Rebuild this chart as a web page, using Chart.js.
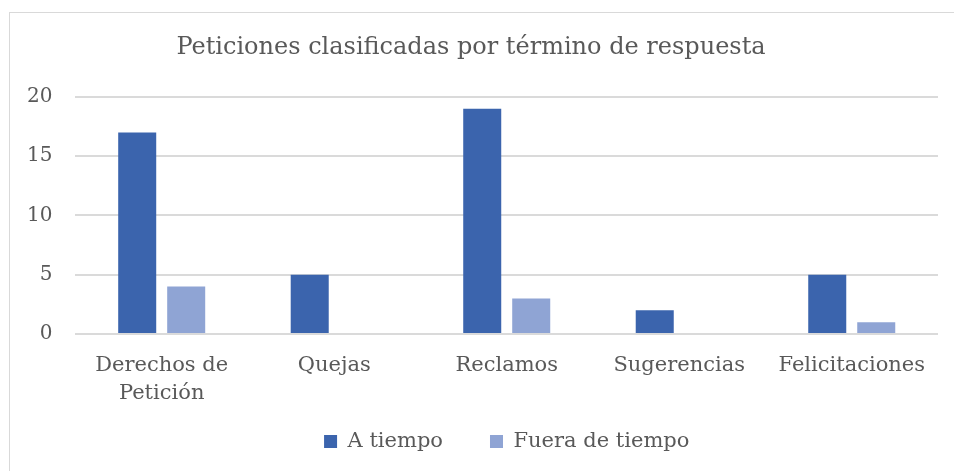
<!DOCTYPE html>
<html>
<head>
<meta charset="utf-8">
<script src="https://cdn.jsdelivr.net/npm/chart.js@4/dist/chart.umd.min.js"></script>
<style>
  html, body { margin: 0; padding: 0; background: #ffffff; overflow: hidden; }
  #wrap { position: relative; width: 954px; height: 471px; overflow: hidden; }
  #frame { position: absolute; left: 9px; top: 12px; width: 1000px; height: 600px; border: 1px solid #d9d9d9; box-sizing: border-box; }
  canvas { position: absolute; left: 0; top: 0; }
</style>
</head>
<body>
<div id="wrap">
  <div id="frame"></div>
  <canvas id="c" width="954" height="471"></canvas>
</div>
<script>
const categories = [["Derechos de", "Petición"], "Quejas", "Reclamos", "Sugerencias", "Felicitaciones"];
const seriesNames = ["A tiempo", "Fuera de tiempo"];
const aTiempo = [17, 5, 19, 2, 5];
const fueraDeTiempo = [4, 0, 3, 0, 1];
const yTicks = [0, 5, 10, 15, 20];

const FONT = "'DejaVu Serif', serif";
const TEXT = '#595959';

// Wider horizontal spacing between legend items without extra vertical space
const legendSpacing = {
  id: 'legendSpacing',
  beforeLayout(chart, args, opts) {
    const lg = chart.legend;
    if (lg && !lg._spacingWrapped) {
      const fit = lg.fit.bind(lg);
      lg.fit = function () { fit(); this.height -= opts.lift; };
      lg._spacingWrapped = true;
    }
  },
  afterLayout(chart, args, opts) {
    const lg = chart.legend;
    if (lg) { lg.top -= opts.lift; }
  }
};

new Chart(document.getElementById('c'), {
  type: 'bar',
  data: {
    labels: categories,
    datasets: [
      { label: seriesNames[0], data: aTiempo, backgroundColor: '#3B64AD', borderWidth: 0 },
      { label: seriesNames[1], data: fueraDeTiempo, backgroundColor: '#8FA4D4', borderWidth: 0 }
    ]
  },
  plugins: [legendSpacing],
  options: {
    responsive: false,
    animation: false,
    devicePixelRatio: 1,
    layout: { padding: { left: 4, right: 16, top: 0, bottom: 9 } },
    datasets: { bar: { categoryPercentage: 0.568, barPercentage: 0.776 } },
    plugins: {
      legendSpacing: { lift: 24 },
      title: {
        display: true,
        text: 'Peticiones clasificadas por término de respuesta',
        color: TEXT,
        font: { family: FONT, size: 24, weight: 'normal', lineHeight: 1.2 },
        padding: { top: 33, bottom: 35 }
      },
      legend: {
        position: 'bottom',
        fullSize: false,
        labels: {
          color: TEXT,
          font: { family: FONT, size: 21 },
          boxWidth: 13,
          boxHeight: 13,
          padding: 47
        }
      },
      tooltip: { enabled: false }
    },
    scales: {
      x: {
        grid: { display: false, drawTicks: false },
        border: { display: false },
        afterFit: (scale) => { scale.height = 74; },
        ticks: {
          color: TEXT,
          font: { family: FONT, size: 21, lineHeight: 1.333 },
          padding: 18,
          maxRotation: 0,
          autoSkip: false
        }
      },
      y: {
        min: 0,
        max: 20,
        afterBuildTicks: (axis) => { axis.ticks = yTicks.map(v => ({ value: v })); },
        grid: { color: '#dadada', lineWidth: 2, drawTicks: false },
        border: { display: false },
        ticks: {
          color: TEXT,
          font: { family: FONT, size: 20 },
          padding: 23
        }
      }
    }
  }
});
</script>
</body>
</html>
